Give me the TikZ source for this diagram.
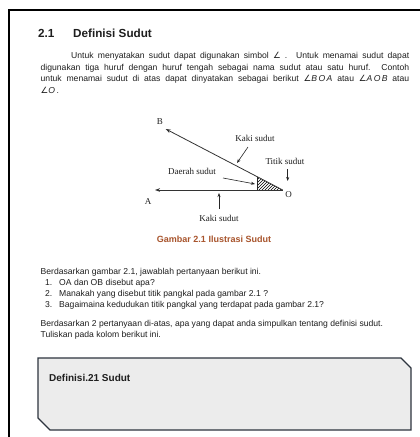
\documentclass[tikz,border=0pt]{standalone}
\usepackage{fontspec}
\setmainfont{Liberation Sans}
\newfontfamily\serifx{Liberation Serif}
\newfontfamily\djv{DejaVu Sans}
\usetikzlibrary{arrows.meta,patterns}
\definecolor{capc}{RGB}{168,84,44}
\definecolor{boxb}{RGB}{45,52,62}
\definecolor{boxf}{RGB}{236,236,236}
\definecolor{txt}{RGB}{30,30,30}
\newcommand{\angsym}{{\djv\char"2220}}
\begin{document}
\begin{tikzpicture}[x=1pt,y=-1pt,
  body/.style={anchor=base west,inner sep=0pt,font=\fontsize{8.6}{10}\selectfont,text=txt},
  lbl/.style={font=\serifx\fontsize{9}{10}\selectfont,inner sep=0pt,text=txt},
  ray/.style={-{Stealth[length=5pt,width=3.6pt]},line width=0.8pt,black!80},
  ptr/.style={-{Stealth[length=4pt,width=3pt]},line width=0.6pt,black!85}]
\useasboundingbox (0,0) rectangle (420,437);
\fill[white] (0,0) rectangle (420,437);
% frame
\draw[line width=1.6pt] (9,437) -- (9,10) -- (420,10);
% heading
\node[anchor=base west,inner sep=0pt,font=\bfseries\fontsize{11.7}{13}\selectfont,text=txt] (h1) at (38,37) {2.1};
\node[anchor=base west,inner sep=0pt,font=\bfseries\fontsize{11.7}{13}\selectfont,text=txt] (h2) at (73,37) {Definisi Sudut};
% paragraph 1
\node[body] (p1) at (71,58) {\makebox[338pt][s]{Untuk menyatakan sudut dapat digunakan simbol \angsym\ . Untuk menamai sudut dapat}};
\node[body] (p2) at (40.5,70) {\makebox[368.5pt][s]{digunakan  tiga huruf dengan huruf tengah sebagai nama sudut atau satu huruf. Contoh}};
\node[body] (p3) at (40.5,81.5) {\makebox[368.5pt][s]{untuk menamai sudut di atas dapat dinyatakan sebagai berikut \angsym\textit{B\,O\,A} atau \angsym\textit{A\,O\,B} atau}};
\node[body] (p4) at (40.5,93.5) {\angsym\textit{O}\,.};
% figure
\coordinate (O) at (282.7,190);
\coordinate (B) at (165.7,129);
\coordinate (A) at (155,190);
\coordinate (H1) at (257,190);
\coordinate (H2) at (257,176.6);
\fill[pattern=north east lines] (H1) -- (O) -- (H2) -- cycle;
\draw[line width=0.6pt,black!85] (H1) -- (H2);
\draw[ray] (O) -- (B);
\draw[ray] (O) -- (A);
\node[lbl] (lB) at (160,122) {B};
\node[lbl] (lA) at (148,202) {A};
\node[lbl] (lO) at (288.5,195) {O};
\node[lbl] (k1) at (255,138) {Kaki sudut};
\node[lbl] (ts) at (285,161) {Titik sudut};
\node[lbl] (ds) at (192,171) {Daerah sudut};
\node[lbl] (k2) at (219,218) {Kaki sudut};
\coordinate (k1e) at (237,163);
\coordinate (k1s) at (248,147);
\coordinate (tse) at (287.7,181);
\coordinate (tss) at (287.7,169);
\coordinate (dse) at (255,184);
\coordinate (dss) at (223,178);
\coordinate (k2e) at (219,193);
\coordinate (k2s) at (219,209);
\draw[ptr] (k1s) -- (k1e);
\draw[ptr] (tss) -- (tse);
\draw[ptr] (dss) -- (dse);
\draw[ptr] (k2s) -- (k2e);
\node[anchor=base,inner sep=0pt,font=\bfseries\fontsize{9}{10}\selectfont,text=capc] (cap) at (214,242.5) {Gambar 2.1 Ilustrasi Sudut};
% questions
\node[body] (q0) at (40.5,274) {Berdasarkan gambar 2.1, jawablah pertanyaan berikut ini.};
\node[body] (n1) at (45,285) {1.};
\node[body] (q1) at (59,285) {OA dan OB disebut apa?};
\node[body] (n2) at (45,296) {2.};
\node[body] (q2) at (59,296) {Manakah yang disebut titik pangkal pada gambar 2.1 ?};
\node[body] (n3) at (45,307) {3.};
\node[body] (q3) at (59,307) {Bagaimaina kedudukan titik pangkal yang terdapat pada gambar 2.1?};
\node[body] (r1) at (40.5,326) {Berdasarkan 2 pertanyaan di-atas, apa yang dapat anda simpulkan tentang definisi sudut.};
\node[body] (r2) at (40.5,337) {Tuliskan pada kolom berikut ini.};
% box
\draw[boxb,fill=boxf,line width=1.4pt,line join=miter] (38,358) -- (401,358) -- (411,368) -- (411,430) -- (50,430) -- (38,418) -- cycle;
\node[anchor=base west,inner sep=0pt,font=\bfseries\fontsize{10}{12}\selectfont,text=txt] (def) at (49,381.5) {Definisi.21 Sudut};
\end{tikzpicture}
\end{document}
